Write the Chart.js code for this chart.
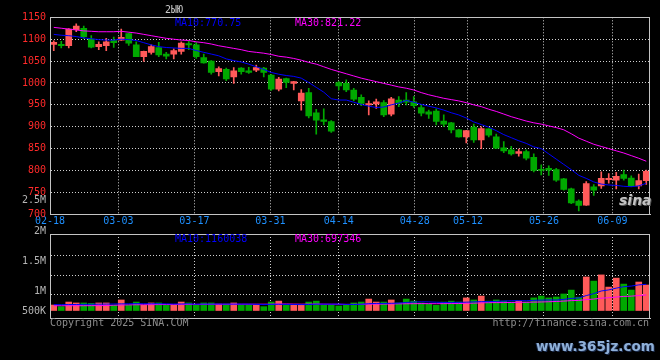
<!DOCTYPE html>
<html><head><meta charset="utf-8">
<script src="https://cdn.jsdelivr.net/npm/chart.js@4.4.1/dist/chart.umd.min.js"></script>
<style>
html,body{margin:0;padding:0;background:#000;width:660px;height:360px;overflow:hidden;}
#wrap{position:relative;width:660px;height:360px;}
canvas{position:absolute;left:0;top:0;}
.t{position:absolute;font-family:"DejaVu Sans Mono",monospace;font-size:10px;line-height:10px;white-space:nowrap;}
</style></head><body>
<div id="wrap">
<canvas id="pc" width="660" height="360"></canvas>
<canvas id="vc" width="660" height="360"></canvas>
<div class="t" style="left:165px;top:5px;color:#c8c8c8">2ЫЮ</div>
<div class="t" id="pm10" style="left:175px;top:18px;color:#0000ff"></div>
<div class="t" id="pm30" style="left:295px;top:18px;color:#ff00ff"></div>
<div class="t" id="vm10" style="left:175px;top:234px;color:#0000ff"></div>
<div class="t" id="vm30" style="left:295px;top:234px;color:#ff00ff"></div>
<div class="t" style="left:50px;top:318px;color:#8c8c8c">Copyright 2025 SINA.COM</div>
<div class="t" style="right:11px;top:318px;color:#8c8c8c">http://finance.sina.com.cn</div>
<div style="position:absolute;left:619px;top:192px;font:italic bold 14px 'DejaVu Sans',sans-serif;color:#c4c4c4;text-shadow:1px 1px 0 #555">sina</div>
<div style="position:absolute;left:536px;top:339px;font:bold 13.5px/14px 'DejaVu Sans',sans-serif;color:#8fb0d8;text-shadow:1px 1px 0 #1a2a4a,-1px 0 0 #1a2a4a">www.365jz.com</div>
</div>
<script>
const dates = ['02-18','02-19','02-20','02-21','02-24','02-25','02-26','02-27','02-28',
'03-03','03-04','03-05','03-06','03-07','03-10','03-11','03-12','03-13','03-14','03-17','03-18','03-19','03-20','03-21','03-24','03-25','03-26','03-27','03-28','03-31',
'04-01','04-02','04-03','04-07','04-08','04-09','04-10','04-11','04-14','04-15','04-16','04-17','04-18','04-21','04-22','04-23','04-24','04-25','04-28','04-29','04-30',
'05-06','05-07','05-08','05-09','05-12','05-13','05-14','05-15','05-16','05-19','05-20','05-21','05-22','05-23','05-26','05-27','05-28','05-29','05-30',
'06-03','06-04','06-05','06-06','06-09','06-10','06-11','06-12','06-13','06-16'];
const tickDates = ['02-18','03-03','03-17','03-31','04-14','04-28','05-12','05-26','06-09'];
const priceTicks = [700,750,800,850,900,950,1000,1050,1100,1150];

const opens = [1088,1088,1085,1122,1125,1100,1083,1085,1097,1098,
1113,1087,1060,1070,1081,1066,1066,1072,1090,1087,
1058,1050,1026,1031,1014,1034,1028,1029,1034,1018,
986,1010,999,959,978,932,916,912,1001,999,
984,967,950,952,955,929,961,961,957,944,
934,936,913,909,893,877,899,870,895,877,
852,847,839,843,830,803,805,802,781,758,
730,721,763,765,779,778,791,783,765,777];
const highs = [1096,1095,1124,1135,1130,1108,1094,1102,1105,1123,
1114,1094,1073,1087,1093,1070,1078,1094,1095,1092,
1066,1051,1037,1034,1035,1035,1036,1041,1036,1020,
1013,1011,1004,985,988,940,941,914,1003,1007,
988,973,959,963,960,967,969,978,969,950,
938,941,927,910,894,892,906,900,896,883,
866,855,849,847,838,813,811,805,782,760,
733,775,768,797,793,796,801,788,792,801];
const lows = [1074,1080,1080,1117,1101,1080,1076,1074,1081,1097,
1086,1060,1049,1066,1060,1055,1055,1066,1076,1056,
1045,1020,1016,1005,999,1020,1022,1026,1014,983,
982,989,984,938,920,883,904,887,984,980,
959,948,927,942,923,925,946,950,944,925,
919,904,900,886,876,863,864,850,877,850,
841,835,833,824,797,790,789,775,755,724,
708,720,743,759,771,758,778,763,758,768];
const closes = [1093,1085,1123,1130,1106,1082,1088,1094,1092,1104,
1091,1060,1072,1083,1064,1061,1074,1091,1087,1060,
1046,1024,1033,1009,1028,1026,1024,1035,1024,986,
1009,1001,1003,977,925,915,912,890,993,984,
963,953,953,957,927,964,954,956,948,931,
929,912,906,893,877,891,870,896,881,851,
845,838,843,828,800,800,801,778,757,726,
720,770,755,782,782,787,782,765,777,798];
const ma10 = [1111,1109,1108,1106,1103,1101,1099,1098,1098,1100,
1099,1097,1092,1087,1083,1081,1080,1079,1079,1074,
1070,1066,1062,1055,1051,1048,1043,1037,1031,1024,
1020,1017,1015,1011,1001,990,979,964,961,961,
956,951,947,944,945,950,954,960,956,951,
947,943,938,932,927,920,911,905,899,891,
882,875,868,862,854,850,838,826,814,802,
789,782,774,769,767,766,764,763,765,770.75];
const ma30 = [1127,1125,1123,1121,1119,1118,1117,1117,1117,1118,
1116,1114,1111,1108,1105,1102,1100,1098,1097,1094,
1092,1089,1085,1082,1079,1076,1072,1070,1068,1065,
1061,1059,1056,1052,1047,1043,1037,1031,1026,1021,
1016,1011,1007,1003,999,995,991,988,984,978,
973,969,965,962,959,955,950,946,940,935,
929,923,918,913,909,906,902,898,893,884,
874,867,860,855,850,845,840,834,828,821.22];
const volumes = [260000,190000,390000,350000,350000,330000,350000,350000,250000,480000,
250000,390000,250000,350000,350000,250000,250000,390000,350000,250000,
350000,350000,300000,300000,350000,250000,250000,250000,190000,390000,
430000,250000,250000,250000,390000,430000,250000,250000,220000,250000,
350000,390000,520000,390000,390000,480000,350000,520000,430000,350000,
300000,250000,390000,430000,390000,570000,480000,650000,430000,480000,
430000,390000,430000,390000,570000,650000,570000,610000,740000,910000,
600000,1480000,1300000,1570000,1040000,1430000,1170000,910000,1260000,1130000];
const volMa10 = [275000,276000,280000,284000,288000,292000,296000,300000,305000,312000,
312000,322000,315000,315000,315000,310000,302000,305000,312000,295000,
302000,300000,303000,300000,300000,300000,300000,290000,277000,289000,
295000,287000,283000,279000,282000,297000,297000,297000,300000,288000,
281000,293000,318000,330000,330000,335000,345000,370000,390000,400000,
396000,383000,371000,375000,375000,384000,396000,408000,408000,420000,
433000,446000,450000,446000,464000,472000,481000,477000,506000,548000,
565000,671000,755000,870000,918000,995000,1055000,1085000,1136000,1160038];
const volMa30 = [230000,230000,230000,230000,230000,232000,235000,240000,255000,262000,
268000,272000,275000,278000,280000,282000,284000,286000,288000,289000,
290000,291000,292000,293000,294000,295000,295000,296000,296000,297000,
303000,305000,300000,297000,298000,302000,298000,295000,294000,287000,
290000,290000,299000,300000,301000,308000,312000,316000,318000,322000,
320000,317000,320000,324000,325000,335000,342000,355000,363000,366000,
366000,370000,376000,380000,386000,393000,403000,415000,431000,452000,
460000,495000,519000,557000,578000,608000,634000,646000,672000,697346];
const volTickLabels = ['500K','1M','1.5M','2M','2.5M'];
const volTickValues = [0,870000,2174000,3478000,4826000];
const volGridValues = [696000,1565000,2435000];

const UP = '#ff5a5a', DOWN = '#00a800';
const GRID = '#d0d0d0', FRAME = '#c4c4c4';
const FONT = {family:'DejaVu Sans Mono', size:10};
const isUp = i => closes[i] >= opens[i];
const candleColor = ctx => isUp(ctx.dataIndex) ? UP : DOWN;
const dateTicks = s => { s.ticks = tickDates.map(d => ({value: dates.indexOf(d)})); };

document.getElementById('pm10').textContent = 'MA10:' + ma10[ma10.length-1].toFixed(2);
document.getElementById('pm30').textContent = 'MA30:' + ma30[ma30.length-1].toFixed(2);
document.getElementById('vm10').textContent = 'MA10:' + Math.round(volMa10[volMa10.length-1]);
document.getElementById('vm30').textContent = 'MA30:' + Math.round(volMa30[volMa30.length-1]);

const frame = {id:'frame', afterDraw(chart){
  const {ctx, chartArea:a} = chart;
  ctx.save(); ctx.strokeStyle = FRAME; ctx.lineWidth = 1;
  ctx.strokeRect(Math.round(a.left)+0.5, Math.round(a.top)+0.5, Math.round(a.right)-Math.round(a.left)-1, Math.round(a.bottom)-Math.round(a.top));
  ctx.restore();
}};

const lineDs = (data, color) => ({type:'line', data, borderColor:color, borderWidth:1, pointRadius:0, tension:0, order:0});
const dateAxis = (showLabels, h) => ({
  type:'linear', position:'bottom', min:0, max:78.95, offset:false, bounds:'data',
  afterBuildTicks: dateTicks, afterFit: s => { s.height = h; },
  ticks:{display:showLabels, autoSkip:false, maxRotation:0, color:'#1e90ff', font:FONT, padding:1, callback: v => dates[v]},
  grid:{color:GRID, drawTicks:false, offset:false}, border:{color:FRAME, dash:[1,2]}
});

new Chart(document.getElementById('pc'), {
  type:'bar',
  data:{labels:dates, datasets:[
    lineDs(ma10, '#0000ff'),
    lineDs(ma30, '#ff00ff'),
    {data: opens.map((o,i) => [o, closes[i]]), backgroundColor:candleColor, barThickness:6, minBarLength:1, grouped:false, order:1},
    {data: lows.map((l,i) => [l, highs[i]]), backgroundColor:candleColor, barThickness:1, grouped:false, order:2}
  ]},
  options:{
    responsive:false, animation:false, devicePixelRatio:1,
    layout:{padding:{top:17.3, right:10, bottom:125.7, left:0}},
    plugins:{legend:{display:false}, tooltip:{enabled:false}},
    scales:{
      x:{display:false, offset:true},
      xd: dateAxis(true, 20),
      y:{min:700, max:1150, afterBuildTicks: s => { s.ticks = priceTicks.map(v => ({value:v})); },
         afterFit: s => { s.width = 50; },
         ticks:{color:'#ff2a2a', font:FONT, padding:4, autoSkip:false, callback: v => String(v)},
         grid:{color:GRID, drawTicks:false}, border:{color:FRAME, dash:[1,2]}}
    }
  },
  plugins:[frame]
});

const volLabel = new Map(volTickValues.map((v,i) => [v, volTickLabels[i]]));
const volGrid = new Set(volGridValues);
new Chart(document.getElementById('vc'), {
  type:'bar',
  data:{labels:dates, datasets:[
    lineDs(volMa10, '#0000ff'),
    lineDs(volMa30, '#ff00ff'),
    {data: volumes, backgroundColor:candleColor, barThickness:6, order:1}
  ]},
  options:{
    responsive:false, animation:false, devicePixelRatio:1,
    layout:{padding:{top:234, right:10, bottom:42, left:0}},
    plugins:{legend:{display:false}, tooltip:{enabled:false}},
    scales:{
      x:{display:false, offset:true},
      xd: dateAxis(false, 0),
      y:{min:-304000, max:3348000,
         afterBuildTicks: s => { s.ticks = [...volTickValues, ...volGridValues].sort((a,b)=>a-b).map(v => ({value:v})); },
         afterFit: s => { s.width = 50; },
         ticks:{color:'#b4b4b4', font:FONT, padding:4, autoSkip:false, callback: v => volLabel.has(v) ? volLabel.get(v) : ''},
         grid:{color: c => (c.tick && volGrid.has(c.tick.value)) ? GRID : 'rgba(0,0,0,0)', drawTicks:false},
         border:{color:FRAME, dash:[1,2]}}
    }
  },
  plugins:[frame]
});
</script>
</body></html>
